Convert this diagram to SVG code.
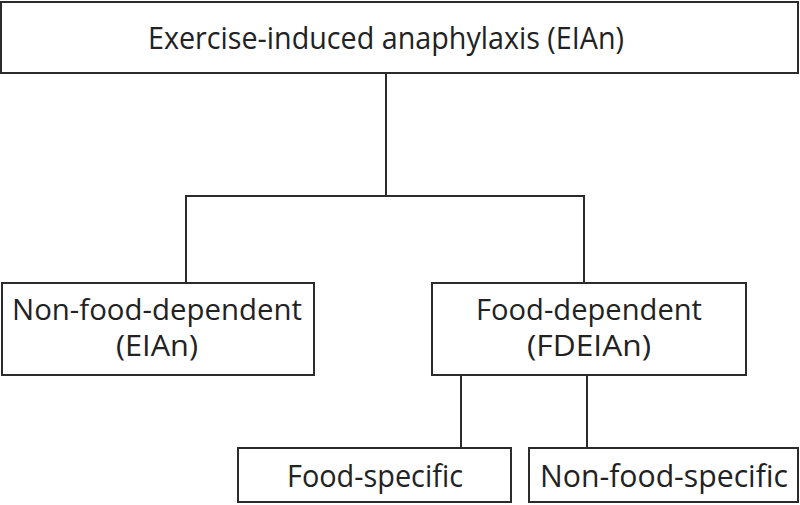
<svg xmlns="http://www.w3.org/2000/svg" width="800" height="505" viewBox="0 0 800 505">
<style>
.box{fill:#fff;stroke:#2b2b2b;stroke-width:2}
.ln{fill:none;stroke:#2b2b2b;stroke-width:2}
text{font-family:"Open Sans","DejaVu Sans",sans-serif;font-size:29px;fill:#222;text-anchor:middle}
.big{font-size:31px}
</style>
<rect width="800" height="505" fill="#fff"/>
<g id="connectors">
<path class="ln" d="M386,73 V196 M186,283 V196 H584 V283"/>
<path class="ln" d="M461,375 V448 M587,375 V448"/>
</g>
<g id="root"><rect class="box" x="1" y="2" width="797" height="71"/><text class="big" x="386" y="49" textLength="476" lengthAdjust="spacingAndGlyphs">Exercise-induced anaphylaxis (EIAn)</text></g>
<g id="nonfood"><rect class="box" x="2" y="283" width="312" height="92"/><text x="157" y="320" textLength="290" lengthAdjust="spacingAndGlyphs">Non-food-dependent</text><text x="157" y="356" textLength="82" lengthAdjust="spacingAndGlyphs">(EIAn)</text></g>
<g id="food"><rect class="box" x="432" y="283" width="314" height="92"/><text x="589" y="320" textLength="226" lengthAdjust="spacingAndGlyphs">Food-dependent</text><text x="589" y="356" textLength="124" lengthAdjust="spacingAndGlyphs">(FDEIAn)</text></g>
<g id="foodspecific"><rect class="box" x="238" y="448" width="273" height="54"/><text class="big" x="375" y="487" textLength="176" lengthAdjust="spacingAndGlyphs">Food-specific</text></g>
<g id="nonfoodspecific"><rect class="box" x="529" y="448" width="269" height="54"/><text class="big" x="664" y="487" textLength="248" lengthAdjust="spacingAndGlyphs">Non-food-specific</text></g>
</svg>
